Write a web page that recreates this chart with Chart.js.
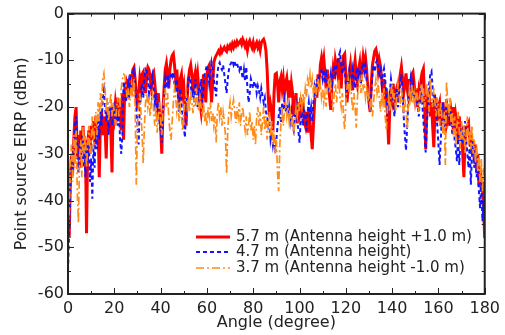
<!DOCTYPE html>
<html>
<head>
<meta charset="utf-8">
<script src="https://cdn.jsdelivr.net/npm/chart.js@4"></script>
<style>
  body { margin: 0; background: #fff; }
  #wrap { width: 505px; height: 335px; }
</style>
</head>
<body>
<div id="wrap"><canvas id="eirpChart" width="505" height="335"></canvas></div>
<script>
// angle grid: one sample every half degree, 0..180
const angleStep = 0.5;

const seriesNames = ['5.7 m (Antenna height +1.0 m)', '4.7 m (Antenna height)', '3.7 m (Antenna height -1.0 m)'];
const xTicks = [0, 20, 40, 60, 80, 100, 120, 140, 160, 180];
const yTicks = [-60, -50, -40, -30, -20, -10, 0];

// 5.7 m
const eirpHigh = [
  -40, -48, -36, -30, -34, -27, -22, -20, -31, -26, -33, -25, -29, -24, -31, -27, -47, -28, -25, -30,
  -24, -27, -23, -28, -22, -26, -24, -35, -23, -21, -26, -22, -24, -31, -21, -23, -20, -25, -34, -20,
  -22, -19, -21, -18, -23, -20, -25, -17, -27, -16, -15, -18, -14, -17, -13, -15, -12, -11.5, -14, -18,
  -20.5, -17, -14, -16, -13, -12.5, -15, -17, -13, -11.5, -12, -14, -16, -13, -12.5, -15, -18, -20, -17, -21,
  -24, -30, -21, -16, -12, -10.7, -13, -16, -12, -10, -9, -8.6, -11, -14, -12, -16, -19, -14, -13, -17,
  -15.5, -20, -24, -18, -14, -12, -11, -13, -17, -14, -12.6, -15, -13, -16, -19, -21, -18, -13, -15, -19,
  -13, -11.5, -11, -14, -19, -15, -10.5, -9.5, -9, -8.5, -8, -8.5, -7.5, -8.2, -7.6, -7.2, -7.8, -8.1, -7, -7.4,
  -6.8, -7.5, -6.5, -7.2, -6.3, -6.8, -6, -6.6, -6.2, -5.8, -6.5, -5.5, -6.1, -7, -6.3, -7.8, -6.4, -5.8, -6.6, -7.3,
  -6.2, -7.5, -6.8, -6.2, -7.2, -6.5, -7.8, -6.2, -5.8, -5.5, -6.3, -8, -12, -18, -22, -19.5, -21, -25, -17, -13,
  -12.8, -15, -19, -14.5, -13.5, -16, -14, -17, -15, -13.8, -16.5, -14.3, -18, -15, -17, -22, -20, -17, -23.5, -19,
  -21, -18, -22, -19, -23, -24, -21, -25.5, -20, -23, -26, -29, -24, -19, -15, -18, -13, -16, -11, -9.5,
  -11.5, -9.7, -13, -16, -12, -15, -18, -20.6, -15, -12, -14, -10, -11.5, -13, -9.5, -12, -16, -11, -9, -8.6,
  -13, -19, -16, -13, -11, -14, -16.4, -12, -10, -13, -15, -12, -10.5, -14, -12, -9.3, -11, -9.5, -12, -16,
  -19, -21, -15, -11, -9.5, -8, -7.6, -9, -12, -10, -11.4, -14, -17, -14, -20, -16, -22, -28, -20, -16,
  -18, -15, -20.6, -17, -16, -19, -15, -13, -11.4, -14, -17, -15, -12.8, -16, -17.7, -14, -16, -13, -12.5, -15,
  -18, -16, -20, -17, -19, -14, -12.5, -11.8, -18, -29, -20, -17, -16.4, -22, -19, -24, -28.6, -21, -18, -23,
  -20, -19, -24, -21, -19, -23, -25.5, -20, -22, -19.5, -24, -21, -23, -20, -25, -22, -24, -27, -22, -26,
  -24, -30, -35, -27, -25, -24, -23.4, -28, -26, -30, -27, -32, -28, -34, -30, -37, -33, -38, -36, -42,
  -48
];

// 4.7 m
const eirpMid = [
  -55, -47, -38, -31, -35, -28, -24, -22, -30, -34, -27, -31, -26, -33, -29, -35, -28, -32, -27, -36,
  -31, -39.6, -28, -33, -25, -29, -23, -27, -21, -24, -18, -16.4, -20, -23, -19, -26, -22, -20, -24, -21,
  -19, -23, -20, -24, -21, -27, -30, -26, -14.5, -16, -19, -17, -15, -18, -14, -13, -12.5, -12, -15, -20,
  -24, -28, -20, -17, -15, -18, -14, -12, -12.5, -14, -17, -15, -15.5, -13.5, -16, -19, -17, -21, -19, -23,
  -25, -27.6, -22, -17, -14, -16, -13, -15, -14, -12.8, -13.5, -12.5, -15, -17, -14, -18, -21, -16, -19, -23,
  -24, -26.5, -21, -17, -14, -13.5, -15, -18, -16, -19, -14, -17, -20, -16, -18, -14, -19, -16, -13, -12,
  -11, -12.5, -15, -13, -10.5, -12, -14, -16, -17.7, -13, -11, -10.5, -11.5, -12, -11, -13, -15, -17, -14, -12,
  -11, -10.5, -10, -11, -10.3, -11.2, -10.7, -11.5, -12.2, -11, -12.5, -13.9, -12, -14.5, -11.4, -16, -19, -17, -14, -15,
  -16, -14.5, -15, -17, -15.5, -16.5, -18, -16, -17.5, -19, -18, -21, -22, -24, -23, -27, -25.5, -28, -26, -29.7,
  -27, -24, -22, -20, -23.4, -19, -20.6, -18.5, -21, -19.5, -22, -20, -23, -21, -24, -25, -22, -20, -23, -25,
  -27.6, -23, -21, -24, -20.6, -22, -25, -21, -19, -22, -20, -23, -19, -16, -18, -14, -16, -13.5, -12.5, -12.2,
  -14, -12, -15, -13, -14.5, -17, -15, -13, -16, -12.5, -11, -13, -11.5, -10, -9, -8.2, -11, -13, -10.5, -12,
  -15, -17, -14, -12, -13.5, -15, -12, -14, -16, -13, -11.5, -14, -12, -15, -11.5, -10.5, -12.5, -11, -14, -17,
  -19, -21, -17, -13, -11, -12.5, -10.5, -10, -11.5, -13, -12, -15, -13, -11.8, -14, -18, -21, -19, -17, -14,
  -16, -19, -22, -18, -16, -20, -17, -15, -13, -17, -22, -26, -29.3, -24, -19, -16, -14, -17, -15, -18,
  -20, -17, -19, -22, -18, -16, -19, -23, -26, -29.7, -24, -19, -15, -13, -12.4, -16, -19, -17, -21, -24,
  -28, -32.4, -27, -22, -19, -25, -21, -18, -22, -20, -24, -21, -26, -23, -27, -29, -31.6, -26, -32.4, -27,
  -24, -28, -26, -23, -27, -30, -33, -28, -36.6, -30, -27, -33, -29, -35, -32, -38, -41.7, -36, -44.4, -40,
  -46
];

// 3.7 m
const eirpLow = [
  -38, -44, -32, -28, -36, -26, -33, -25, -38, -44.8, -31, -27, -35, -24, -30, -26, -33, -28, -24, -30,
  -27, -22, -29, -25, -21, -26, -19, -23, -17, -20, -14, -12.8, -16, -21, -18, -23, -20, -17, -22, -19,
  -21, -24, -20, -18, -22, -19, -16, -14, -13, -13.2, -15, -18, -16, -20, -17, -15, -18, -14, -20, -36.6,
  -24, -20, -17, -21, -26, -32, -24, -19, -17, -20, -18, -22, -19, -16.4, -21, -24, -20, -25.5, -22, -19,
  -23, -26, -21, -18, -16, -20, -17, -22, -25, -27, -23, -19, -16, -18, -21, -19, -23, -20, -22, -25,
  -21, -19, -17, -20, -18, -21, -16.4, -19, -21.3, -18, -20, -17, -19, -21, -18, -20, -22, -19, -23, -21,
  -24, -20, -22, -19, -23, -21, -24, -22, -27.6, -21, -19, -22, -20, -24, -21, -23, -26, -34.3, -25, -21,
  -19, -22, -20, -18.5, -21, -23.4, -20, -22, -19, -24, -21, -20, -23, -25, -22, -26, -24, -21, -25, -23,
  -27, -24, -28, -22, -20, -24, -21, -26, -23, -20, -25, -22, -27, -24, -21, -26, -23, -28, -25, -30,
  -27, -34, -38, -28, -23, -20, -24, -21, -19, -22, -20, -23, -21, -24, -22, -26, -23, -20, -22, -19,
  -21, -18, -20, -17, -19, -16, -18, -14, -15, -13, -16, -14, -17, -15, -18, -16, -14, -17, -15, -18,
  -16, -19, -17, -19.9, -16, -14, -17, -15, -18, -21, -17, -15, -19, -16, -14, -18, -20, -17, -22, -24.8,
  -19, -16, -14, -17, -15, -18, -21, -17, -20, -24.4, -18, -15, -14, -17, -13, -16, -15, -18, -16, -19,
  -17, -20, -18, -22, -19, -16, -14, -17, -15, -18, -21, -17, -19, -16, -22, -25, -20, -18, -21, -17,
  -15, -19, -17, -21, -18, -15, -17, -20, -16, -19, -22, -18, -21, -24.8, -19, -16, -18, -15, -19, -17,
  -20, -16, -18, -21, -17, -15, -19, -16, -20, -18, -15, -17, -21, -14, -18, -20, -16, -19, -22, -18,
  -20, -24, -19, -22, -26, -21, -32.4, -14.5, -19, -22, -18, -24, -21, -26, -22, -28, -24, -21, -25, -29,
  -23, -27, -24, -30, -26, -22, -28, -25, -29, -24, -30, -27, -32, -28, -34, -30, -36, -31, -38, -33,
  -35
];

const toPoints = arr => arr.map((v, i) => ({ x: i * angleStep, y: v }));

const FONT = 'DejaVu Sans';
const INK = '#222';

// box + inward ticks on all four sides, plus the legend inside the plot
const frameAndLegend = {
  id: 'frameAndLegend',
  afterDraw(chart) {
    const ctx = chart.ctx;
    const a = chart.chartArea;
    const xs = chart.scales.x, ys = chart.scales.y;
    ctx.save();
    ctx.strokeStyle = INK;
    ctx.lineWidth = 1;
    ctx.setLineDash([]);
    ctx.beginPath();
    for (let v = 0; v <= 180; v += 10) {
      const px = Math.round(xs.getPixelForValue(v)) + 0.5;
      const len = v % 20 === 0 ? 6 : 3;
      ctx.moveTo(px, a.bottom); ctx.lineTo(px, a.bottom - len);
      ctx.moveTo(px, a.top); ctx.lineTo(px, a.top + len);
    }
    for (let v = -60; v <= 0; v += 5) {
      const py = Math.round(ys.getPixelForValue(v)) + 0.5;
      const len = v % 10 === 0 ? 6 : 3;
      ctx.moveTo(a.left, py); ctx.lineTo(a.left + len, py);
      ctx.moveTo(a.right, py); ctx.lineTo(a.right - len, py);
    }
    ctx.stroke();
    ctx.lineWidth = 2;
    ctx.strokeRect(a.left, a.top, a.right - a.left, a.bottom - a.top);

    // legend
    const lx0 = a.left + 128, lx1 = a.left + 162, tx = a.left + 168;
    const rowY = [a.bottom - 57, a.bottom - 42, a.bottom - 26];
    ctx.font = '15px "' + FONT + '"';
    ctx.textBaseline = 'middle';
    ctx.textAlign = 'left';
    chart.data.datasets.forEach((ds, i) => {
      ctx.strokeStyle = ds.borderColor;
      ctx.lineWidth = ds.borderWidth;
      ctx.setLineDash(ds.borderDash || []);
      ctx.beginPath();
      ctx.moveTo(lx0, rowY[i]); ctx.lineTo(lx1, rowY[i]);
      ctx.stroke();
      ctx.fillStyle = INK;
      ctx.fillText(ds.label, tx, rowY[i]);
    });
    ctx.restore();
  }
};

new Chart(document.getElementById('eirpChart'), {
  type: 'line',
  data: {
    datasets: [{
      label: seriesNames[0],
      data: toPoints(eirpHigh),
      borderColor: '#ff0000',
      borderWidth: 3,
      order: 3
    }, {
      label: seriesNames[1],
      data: toPoints(eirpMid),
      borderColor: '#1414ff',
      borderWidth: 2,
      borderDash: [4, 3],
      order: 2
    }, {
      label: seriesNames[2],
      data: toPoints(eirpLow),
      borderColor: '#ff8c1a',
      borderWidth: 1.7,
      borderDash: [8, 3, 2, 3],
      order: 1
    }]
  },
  options: {
    responsive: false,
    animation: false,
    devicePixelRatio: 1,
    parsing: false,
    elements: { point: { radius: 0 }, line: { tension: 0 } },
    layout: { padding: { top: 9, right: 20, left: 0, bottom: 0 } },
    plugins: { legend: { display: false }, tooltip: { enabled: false } },
    scales: {
      x: {
        type: 'linear',
        min: 0, max: 180,
        afterFit: s => { s.height = 41; },
        afterBuildTicks: s => { s.ticks = xTicks.map(v => ({ value: v })); },
        grid: { display: false, drawTicks: false },
        border: { display: false },
        ticks: { color: INK, font: { family: FONT, size: 16 }, padding: 5, maxRotation: 0 },
        title: { display: true, text: 'Angle (degree)', color: INK, font: { family: FONT, size: 16 }, padding: { top: 0, bottom: 3 } }
      },
      y: {
        min: -60, max: 0,
        afterFit: s => { s.width = 68; },
        afterBuildTicks: s => { s.ticks = yTicks.map(v => ({ value: v })); },
        grid: { display: false, drawTicks: false },
        border: { display: false },
        ticks: { color: INK, font: { family: FONT, size: 16 }, padding: 4 },
        title: { display: true, text: 'Point source EIRP (dBm)', color: INK, font: { family: FONT, size: 16 }, padding: { top: 12, bottom: 0 } }
      }
    }
  },
  plugins: [frameAndLegend]
});
</script>
</body>
</html>
